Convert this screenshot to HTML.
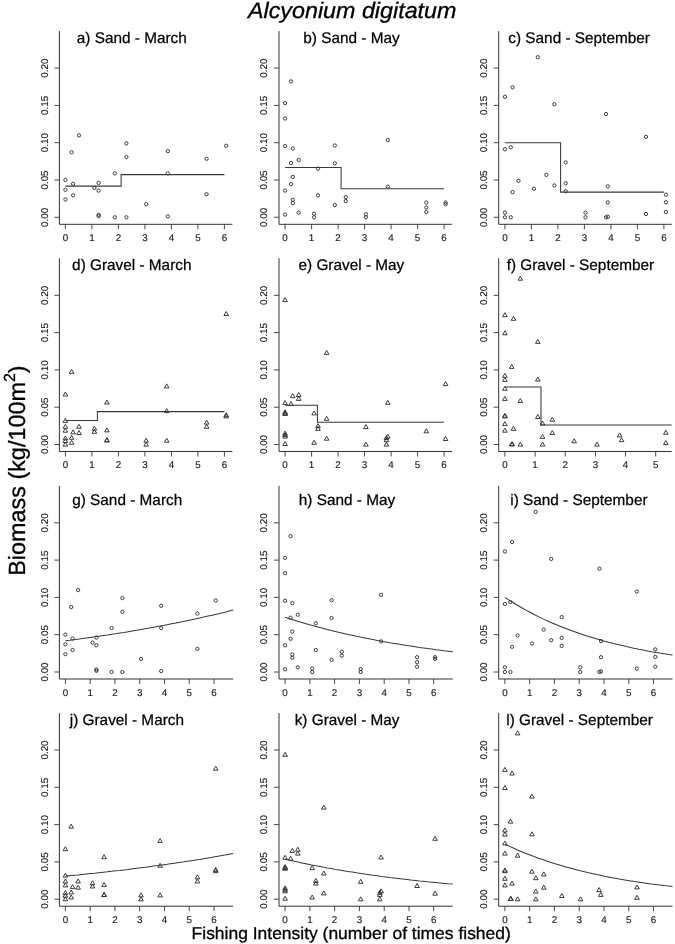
<!DOCTYPE html><html><head><meta charset="utf-8"><style>.ln{fill:none;stroke:#383838;stroke-width:1.05}g text{stroke-width:.25px}g text.tk{fill:#1a1a1a;stroke:#1a1a1a;stroke-width:.15px}html,body{margin:0;padding:0;background:#fff}svg{display:block}text{font-family:"Liberation Sans",sans-serif;fill:#000;stroke:#000;stroke-width:.3px;text-rendering:geometricPrecision}</style></head><body>
<svg width="675" height="944" viewBox="0 0 675 944" style="filter:grayscale(1) blur(0.3px)">
<rect width="675" height="944" fill="#fff"/>
<text transform="translate(352.2,18.3) scale(1.045,1)" font-size="22.3" font-style="italic" text-anchor="middle" fill="#000">Alcyonium digitatum</text>
<text transform="translate(25.2,575.8) rotate(-90)" font-size="23.4" fill="#000">Biomass (kg/100m<tspan font-size="16" dy="-10.5">2</tspan><tspan dy="10.5">)</tspan></text>
<text transform="translate(351.2,938.7) scale(1.025,1)" font-size="17.05" text-anchor="middle" fill="#000">Fishing Intensity (number of times fished)</text>
<g fill="none" stroke="#333" stroke-width="0.95"><path d="M59.4 31.1V224.3H232.4" fill="none" stroke="#333" stroke-width="1"/><path d="M54.4 217.3H59.4M54.4 180.0H59.4M54.4 142.7H59.4M54.4 105.4H59.4M54.4 68.1H59.4M65.4 224.3V229.3M91.9 224.3V229.3M118.4 224.3V229.3M144.9 224.3V229.3M171.4 224.3V229.3M197.9 224.3V229.3M224.4 224.3V229.3" fill="none" stroke="#333" stroke-width="0.9"/><text x="65.4" y="240.9" font-size="9.8" class="tk" text-anchor="middle">0</text><text x="91.9" y="240.9" font-size="9.8" class="tk" text-anchor="middle">1</text><text x="118.4" y="240.9" font-size="9.8" class="tk" text-anchor="middle">2</text><text x="144.9" y="240.9" font-size="9.8" class="tk" text-anchor="middle">3</text><text x="171.4" y="240.9" font-size="9.8" class="tk" text-anchor="middle">4</text><text x="197.9" y="240.9" font-size="9.8" class="tk" text-anchor="middle">5</text><text x="224.4" y="240.9" font-size="9.8" class="tk" text-anchor="middle">6</text><text transform="translate(47.7,217.3) rotate(-90)" font-size="9.9" class="tk" text-anchor="middle">0.00</text><text transform="translate(47.7,180.0) rotate(-90)" font-size="9.9" class="tk" text-anchor="middle">0.05</text><text transform="translate(47.7,142.7) rotate(-90)" font-size="9.9" class="tk" text-anchor="middle">0.10</text><text transform="translate(47.7,105.4) rotate(-90)" font-size="9.9" class="tk" text-anchor="middle">0.15</text><text transform="translate(47.7,68.1) rotate(-90)" font-size="9.9" class="tk" text-anchor="middle">0.20</text><text x="131.8" y="42.9" font-size="15.35" text-anchor="middle" fill="#000">a) Sand - March</text><circle cx="65.4" cy="179.9" r="1.65"/><circle cx="65.4" cy="189.7" r="1.65"/><circle cx="65.4" cy="199.5" r="1.65"/><circle cx="73.1" cy="183.8" r="1.65"/><circle cx="73.1" cy="195.3" r="1.65"/><circle cx="71.6" cy="152.3" r="1.65"/><circle cx="79.0" cy="135.4" r="1.65"/><circle cx="94.4" cy="187.9" r="1.65"/><circle cx="98.6" cy="182.9" r="1.65"/><circle cx="98.6" cy="190.6" r="1.65"/><circle cx="98.6" cy="214.8" r="1.65"/><circle cx="98.6" cy="216.1" r="1.65"/><circle cx="114.8" cy="173.4" r="1.65"/><circle cx="114.8" cy="217.3" r="1.65"/><circle cx="126.4" cy="143.4" r="1.65"/><circle cx="126.4" cy="157.1" r="1.65"/><circle cx="126.4" cy="217.3" r="1.65"/><circle cx="146.2" cy="204.2" r="1.65"/><circle cx="167.8" cy="151.1" r="1.65"/><circle cx="167.8" cy="173.4" r="1.65"/><circle cx="167.8" cy="216.4" r="1.65"/><circle cx="206.6" cy="158.8" r="1.65"/><circle cx="206.6" cy="194.2" r="1.65"/><circle cx="226.2" cy="145.8" r="1.65"/><path d="M65.4 186.1H121.1V174.6H224.4" class="ln"/></g>
<g fill="none" stroke="#333" stroke-width="0.95"><path d="M279.0 31.1V224.3H452.0" fill="none" stroke="#333" stroke-width="1"/><path d="M274.0 217.3H279.0M274.0 180.0H279.0M274.0 142.7H279.0M274.0 105.4H279.0M274.0 68.1H279.0M285.1 224.3V229.3M311.6 224.3V229.3M338.1 224.3V229.3M364.6 224.3V229.3M391.1 224.3V229.3M417.6 224.3V229.3M444.1 224.3V229.3" fill="none" stroke="#333" stroke-width="0.9"/><text x="285.1" y="240.9" font-size="9.8" class="tk" text-anchor="middle">0</text><text x="311.6" y="240.9" font-size="9.8" class="tk" text-anchor="middle">1</text><text x="338.1" y="240.9" font-size="9.8" class="tk" text-anchor="middle">2</text><text x="364.6" y="240.9" font-size="9.8" class="tk" text-anchor="middle">3</text><text x="391.1" y="240.9" font-size="9.8" class="tk" text-anchor="middle">4</text><text x="417.6" y="240.9" font-size="9.8" class="tk" text-anchor="middle">5</text><text x="444.1" y="240.9" font-size="9.8" class="tk" text-anchor="middle">6</text><text transform="translate(267.3,217.3) rotate(-90)" font-size="9.9" class="tk" text-anchor="middle">0.00</text><text transform="translate(267.3,180.0) rotate(-90)" font-size="9.9" class="tk" text-anchor="middle">0.05</text><text transform="translate(267.3,142.7) rotate(-90)" font-size="9.9" class="tk" text-anchor="middle">0.10</text><text transform="translate(267.3,105.4) rotate(-90)" font-size="9.9" class="tk" text-anchor="middle">0.15</text><text transform="translate(267.3,68.1) rotate(-90)" font-size="9.9" class="tk" text-anchor="middle">0.20</text><text x="351.5" y="42.9" font-size="15.35" text-anchor="middle" fill="#000">b) Sand - May</text><circle cx="285.1" cy="103.1" r="1.65"/><circle cx="285.1" cy="118.5" r="1.65"/><circle cx="285.1" cy="146.1" r="1.65"/><circle cx="285.1" cy="190.6" r="1.65"/><circle cx="285.1" cy="214.6" r="1.65"/><circle cx="291.0" cy="81.4" r="1.65"/><circle cx="291.0" cy="163.0" r="1.65"/><circle cx="291.0" cy="184.1" r="1.65"/><circle cx="292.8" cy="148.5" r="1.65"/><circle cx="292.8" cy="176.9" r="1.65"/><circle cx="292.8" cy="199.8" r="1.65"/><circle cx="292.8" cy="203.1" r="1.65"/><circle cx="298.7" cy="160.0" r="1.65"/><circle cx="298.7" cy="212.6" r="1.65"/><circle cx="314.1" cy="213.7" r="1.65"/><circle cx="314.1" cy="217.3" r="1.65"/><circle cx="318.0" cy="168.6" r="1.65"/><circle cx="318.0" cy="195.3" r="1.65"/><circle cx="334.8" cy="145.5" r="1.65"/><circle cx="334.8" cy="163.3" r="1.65"/><circle cx="334.8" cy="205.1" r="1.65"/><circle cx="345.8" cy="197.1" r="1.65"/><circle cx="345.8" cy="201.0" r="1.65"/><circle cx="365.9" cy="214.3" r="1.65"/><circle cx="365.9" cy="217.3" r="1.65"/><circle cx="387.8" cy="140.1" r="1.65"/><circle cx="387.8" cy="186.7" r="1.65"/><circle cx="426.3" cy="202.5" r="1.65"/><circle cx="426.3" cy="207.5" r="1.65"/><circle cx="426.3" cy="212.0" r="1.65"/><circle cx="445.6" cy="202.5" r="1.65"/><circle cx="445.6" cy="204.2" r="1.65"/><path d="M285.1 167.4H341.1V188.8H444.1" class="ln"/></g>
<g fill="none" stroke="#333" stroke-width="0.95"><path d="M498.7 31.1V224.3H671.7" fill="none" stroke="#333" stroke-width="1"/><path d="M493.7 217.3H498.7M493.7 180.0H498.7M493.7 142.7H498.7M493.7 105.4H498.7M493.7 68.1H498.7M504.9 224.3V229.3M531.4 224.3V229.3M557.9 224.3V229.3M584.4 224.3V229.3M610.9 224.3V229.3M637.4 224.3V229.3M663.9 224.3V229.3" fill="none" stroke="#333" stroke-width="0.9"/><text x="504.9" y="240.9" font-size="9.8" class="tk" text-anchor="middle">0</text><text x="531.4" y="240.9" font-size="9.8" class="tk" text-anchor="middle">1</text><text x="557.9" y="240.9" font-size="9.8" class="tk" text-anchor="middle">2</text><text x="584.4" y="240.9" font-size="9.8" class="tk" text-anchor="middle">3</text><text x="610.9" y="240.9" font-size="9.8" class="tk" text-anchor="middle">4</text><text x="637.4" y="240.9" font-size="9.8" class="tk" text-anchor="middle">5</text><text x="663.9" y="240.9" font-size="9.8" class="tk" text-anchor="middle">6</text><text transform="translate(487.0,217.3) rotate(-90)" font-size="9.9" class="tk" text-anchor="middle">0.00</text><text transform="translate(487.0,180.0) rotate(-90)" font-size="9.9" class="tk" text-anchor="middle">0.05</text><text transform="translate(487.0,142.7) rotate(-90)" font-size="9.9" class="tk" text-anchor="middle">0.10</text><text transform="translate(487.0,105.4) rotate(-90)" font-size="9.9" class="tk" text-anchor="middle">0.15</text><text transform="translate(487.0,68.1) rotate(-90)" font-size="9.9" class="tk" text-anchor="middle">0.20</text><text x="579.1" y="42.9" font-size="15.35" text-anchor="middle" fill="#000">c) Sand - September</text><circle cx="504.9" cy="96.8" r="1.65"/><circle cx="504.9" cy="149.3" r="1.65"/><circle cx="504.9" cy="212.6" r="1.65"/><circle cx="504.9" cy="217.3" r="1.65"/><circle cx="510.8" cy="147.3" r="1.65"/><circle cx="510.8" cy="217.3" r="1.65"/><circle cx="512.6" cy="87.3" r="1.65"/><circle cx="512.6" cy="192.1" r="1.65"/><circle cx="518.5" cy="180.8" r="1.65"/><circle cx="533.9" cy="188.8" r="1.65"/><circle cx="546.4" cy="174.9" r="1.65"/><circle cx="554.4" cy="104.2" r="1.65"/><circle cx="554.4" cy="185.5" r="1.65"/><circle cx="565.7" cy="162.4" r="1.65"/><circle cx="565.7" cy="183.2" r="1.65"/><circle cx="565.7" cy="191.2" r="1.65"/><circle cx="585.5" cy="212.6" r="1.65"/><circle cx="585.5" cy="217.3" r="1.65"/><circle cx="606.0" cy="114.0" r="1.65"/><circle cx="606.0" cy="217.3" r="1.65"/><circle cx="607.8" cy="186.4" r="1.65"/><circle cx="607.8" cy="202.5" r="1.65"/><circle cx="607.8" cy="216.7" r="1.65"/><circle cx="646.0" cy="136.9" r="1.65"/><circle cx="646.0" cy="214.0" r="1.65"/><circle cx="665.9" cy="194.7" r="1.65"/><circle cx="665.9" cy="202.2" r="1.65"/><circle cx="665.9" cy="212.0" r="1.65"/><circle cx="537.8" cy="57.2" r="1.65"/><path d="M504.9 142.8H560.6V192.1H663.9" class="ln"/></g>
<g fill="none" stroke="#333" stroke-width="0.95"><path d="M59.4 258.3V451.5H232.4" fill="none" stroke="#333" stroke-width="1"/><path d="M54.4 444.5H59.4M54.4 407.2H59.4M54.4 369.9H59.4M54.4 332.6H59.4M54.4 295.3H59.4M65.4 451.5V456.5M91.9 451.5V456.5M118.4 451.5V456.5M144.9 451.5V456.5M171.4 451.5V456.5M197.9 451.5V456.5M224.4 451.5V456.5" fill="none" stroke="#333" stroke-width="0.9"/><text x="65.4" y="468.1" font-size="9.8" class="tk" text-anchor="middle">0</text><text x="91.9" y="468.1" font-size="9.8" class="tk" text-anchor="middle">1</text><text x="118.4" y="468.1" font-size="9.8" class="tk" text-anchor="middle">2</text><text x="144.9" y="468.1" font-size="9.8" class="tk" text-anchor="middle">3</text><text x="171.4" y="468.1" font-size="9.8" class="tk" text-anchor="middle">4</text><text x="197.9" y="468.1" font-size="9.8" class="tk" text-anchor="middle">5</text><text x="224.4" y="468.1" font-size="9.8" class="tk" text-anchor="middle">6</text><text transform="translate(47.7,444.5) rotate(-90)" font-size="9.9" class="tk" text-anchor="middle">0.00</text><text transform="translate(47.7,407.2) rotate(-90)" font-size="9.9" class="tk" text-anchor="middle">0.05</text><text transform="translate(47.7,369.9) rotate(-90)" font-size="9.9" class="tk" text-anchor="middle">0.10</text><text transform="translate(47.7,332.6) rotate(-90)" font-size="9.9" class="tk" text-anchor="middle">0.15</text><text transform="translate(47.7,295.3) rotate(-90)" font-size="9.9" class="tk" text-anchor="middle">0.20</text><text x="131.8" y="270.1" font-size="15.35" text-anchor="middle" fill="#000">d) Gravel - March</text><path d="M65.4 392.0l2.3 4.0h-4.6zM65.4 418.4l2.3 4.0h-4.6zM65.4 424.3l2.3 4.0h-4.6zM65.4 428.2l2.3 4.0h-4.6zM65.4 435.9l2.3 4.0h-4.6zM65.4 438.5l2.3 4.0h-4.6zM65.4 442.1l2.3 4.0h-4.6zM71.6 369.4l2.3 4.0h-4.6zM71.6 435.3l2.3 4.0h-4.6zM71.6 440.3l2.3 4.0h-4.6zM73.1 429.9l2.3 4.0h-4.6zM79.0 424.3l2.3 4.0h-4.6zM79.0 430.5l2.3 4.0h-4.6zM94.4 426.1l2.3 4.0h-4.6zM94.4 429.3l2.3 4.0h-4.6zM106.9 400.0l2.3 4.0h-4.6zM106.9 427.9l2.3 4.0h-4.6zM106.9 437.7l2.3 4.0h-4.6zM106.9 437.9l2.3 4.0h-4.6zM146.2 438.2l2.3 4.0h-4.6zM146.2 442.1l2.3 4.0h-4.6zM166.7 383.9l2.3 4.0h-4.6zM166.7 408.6l2.3 4.0h-4.6zM166.7 438.2l2.3 4.0h-4.6zM206.6 420.1l2.3 4.0h-4.6zM206.6 424.3l2.3 4.0h-4.6zM226.2 311.5l2.3 4.0h-4.6zM226.2 412.7l2.3 4.0h-4.6zM226.2 413.9l2.3 4.0h-4.6z"/><path d="M65.4 420.5H97.4V411.6H224.4" class="ln"/></g>
<g fill="none" stroke="#333" stroke-width="0.95"><path d="M279.0 258.3V451.5H452.0" fill="none" stroke="#333" stroke-width="1"/><path d="M274.0 444.5H279.0M274.0 407.2H279.0M274.0 369.9H279.0M274.0 332.6H279.0M274.0 295.3H279.0M285.1 451.5V456.5M311.6 451.5V456.5M338.1 451.5V456.5M364.6 451.5V456.5M391.1 451.5V456.5M417.6 451.5V456.5M444.1 451.5V456.5" fill="none" stroke="#333" stroke-width="0.9"/><text x="285.1" y="468.1" font-size="9.8" class="tk" text-anchor="middle">0</text><text x="311.6" y="468.1" font-size="9.8" class="tk" text-anchor="middle">1</text><text x="338.1" y="468.1" font-size="9.8" class="tk" text-anchor="middle">2</text><text x="364.6" y="468.1" font-size="9.8" class="tk" text-anchor="middle">3</text><text x="391.1" y="468.1" font-size="9.8" class="tk" text-anchor="middle">4</text><text x="417.6" y="468.1" font-size="9.8" class="tk" text-anchor="middle">5</text><text x="444.1" y="468.1" font-size="9.8" class="tk" text-anchor="middle">6</text><text transform="translate(267.3,444.5) rotate(-90)" font-size="9.9" class="tk" text-anchor="middle">0.00</text><text transform="translate(267.3,407.2) rotate(-90)" font-size="9.9" class="tk" text-anchor="middle">0.05</text><text transform="translate(267.3,369.9) rotate(-90)" font-size="9.9" class="tk" text-anchor="middle">0.10</text><text transform="translate(267.3,332.6) rotate(-90)" font-size="9.9" class="tk" text-anchor="middle">0.15</text><text transform="translate(267.3,295.3) rotate(-90)" font-size="9.9" class="tk" text-anchor="middle">0.20</text><text x="351.4" y="270.1" font-size="15.35" text-anchor="middle" fill="#000">e) Gravel - May</text><path d="M285.1 297.6l2.3 4.0h-4.6zM285.1 400.6l2.3 4.0h-4.6zM285.1 409.8l2.3 4.0h-4.6zM285.1 410.9l2.3 4.0h-4.6zM285.1 411.5l2.3 4.0h-4.6zM285.1 431.1l2.3 4.0h-4.6zM285.1 432.6l2.3 4.0h-4.6zM285.1 434.1l2.3 4.0h-4.6zM285.1 441.5l2.3 4.0h-4.6zM291.0 401.5l2.3 4.0h-4.6zM292.8 393.7l2.3 4.0h-4.6zM298.7 392.5l2.3 4.0h-4.6zM298.7 396.4l2.3 4.0h-4.6zM314.1 410.9l2.3 4.0h-4.6zM314.1 440.3l2.3 4.0h-4.6zM318.0 423.7l2.3 4.0h-4.6zM318.0 426.4l2.3 4.0h-4.6zM326.6 350.4l2.3 4.0h-4.6zM326.6 416.3l2.3 4.0h-4.6zM326.6 436.2l2.3 4.0h-4.6zM365.9 424.6l2.3 4.0h-4.6zM365.9 442.1l2.3 4.0h-4.6zM386.4 435.6l2.3 4.0h-4.6zM386.4 437.7l2.3 4.0h-4.6zM386.4 442.1l2.3 4.0h-4.6zM387.8 400.3l2.3 4.0h-4.6zM387.8 434.1l2.3 4.0h-4.6zM426.3 428.8l2.3 4.0h-4.6zM445.6 381.6l2.3 4.0h-4.6zM445.6 436.5l2.3 4.0h-4.6z"/><path d="M285.1 405.3H317.4V422.2H444.1" class="ln"/></g>
<g fill="none" stroke="#333" stroke-width="0.95"><path d="M498.7 258.3V451.5H671.7" fill="none" stroke="#333" stroke-width="1"/><path d="M493.7 444.5H498.7M493.7 407.2H498.7M493.7 369.9H498.7M493.7 332.6H498.7M493.7 295.3H498.7M504.9 451.5V456.5M535.1 451.5V456.5M565.2 451.5V456.5M595.4 451.5V456.5M625.5 451.5V456.5M655.7 451.5V456.5" fill="none" stroke="#333" stroke-width="0.9"/><text x="504.9" y="468.1" font-size="9.8" class="tk" text-anchor="middle">0</text><text x="535.1" y="468.1" font-size="9.8" class="tk" text-anchor="middle">1</text><text x="565.2" y="468.1" font-size="9.8" class="tk" text-anchor="middle">2</text><text x="595.4" y="468.1" font-size="9.8" class="tk" text-anchor="middle">3</text><text x="625.5" y="468.1" font-size="9.8" class="tk" text-anchor="middle">4</text><text x="655.7" y="468.1" font-size="9.8" class="tk" text-anchor="middle">5</text><text transform="translate(487.0,444.5) rotate(-90)" font-size="9.9" class="tk" text-anchor="middle">0.00</text><text transform="translate(487.0,407.2) rotate(-90)" font-size="9.9" class="tk" text-anchor="middle">0.05</text><text transform="translate(487.0,369.9) rotate(-90)" font-size="9.9" class="tk" text-anchor="middle">0.10</text><text transform="translate(487.0,332.6) rotate(-90)" font-size="9.9" class="tk" text-anchor="middle">0.15</text><text transform="translate(487.0,295.3) rotate(-90)" font-size="9.9" class="tk" text-anchor="middle">0.20</text><text x="580.4" y="270.1" font-size="15.35" text-anchor="middle" fill="#000">f) Gravel - September</text><path d="M504.9 312.7l2.3 4.0h-4.6zM504.9 330.8l2.3 4.0h-4.6zM504.9 373.3l2.3 4.0h-4.6zM504.9 377.4l2.3 4.0h-4.6zM504.9 386.3l2.3 4.0h-4.6zM504.9 396.4l2.3 4.0h-4.6zM504.9 413.3l2.3 4.0h-4.6zM504.9 413.9l2.3 4.0h-4.6zM504.9 421.6l2.3 4.0h-4.6zM504.9 428.2l2.3 4.0h-4.6zM511.7 364.4l2.3 4.0h-4.6zM511.7 441.8l2.3 4.0h-4.6zM512.3 441.8l2.3 4.0h-4.6zM513.5 316.3l2.3 4.0h-4.6zM513.5 426.4l2.3 4.0h-4.6zM520.3 398.5l2.3 4.0h-4.6zM520.3 442.1l2.3 4.0h-4.6zM537.8 339.4l2.3 4.0h-4.6zM537.8 377.1l2.3 4.0h-4.6zM537.8 414.5l2.3 4.0h-4.6zM542.5 421.0l2.3 4.0h-4.6zM542.5 434.4l2.3 4.0h-4.6zM542.5 442.1l2.3 4.0h-4.6zM552.3 417.2l2.3 4.0h-4.6zM552.3 430.5l2.3 4.0h-4.6zM574.2 438.8l2.3 4.0h-4.6zM597.0 442.1l2.3 4.0h-4.6zM619.6 432.9l2.3 4.0h-4.6zM621.6 437.7l2.3 4.0h-4.6zM665.8 430.2l2.3 4.0h-4.6zM665.8 440.6l2.3 4.0h-4.6zM520.3 276.2l2.3 4.0h-4.6z"/><path d="M504.9 386.9H541.0V424.9H671.7" class="ln"/></g>
<g fill="none" stroke="#333" stroke-width="0.95"><path d="M59.4 485.8V679.0H233.2" fill="none" stroke="#333" stroke-width="1"/><path d="M54.4 672.0H59.4M54.4 634.7H59.4M54.4 597.4H59.4M54.4 560.1H59.4M54.4 522.8H59.4M65.4 679.0V684.0M90.2 679.0V684.0M114.9 679.0V684.0M139.7 679.0V684.0M164.5 679.0V684.0M189.2 679.0V684.0M214.0 679.0V684.0" fill="none" stroke="#333" stroke-width="0.9"/><text x="65.4" y="695.6" font-size="9.8" class="tk" text-anchor="middle">0</text><text x="90.2" y="695.6" font-size="9.8" class="tk" text-anchor="middle">1</text><text x="114.9" y="695.6" font-size="9.8" class="tk" text-anchor="middle">2</text><text x="139.7" y="695.6" font-size="9.8" class="tk" text-anchor="middle">3</text><text x="164.5" y="695.6" font-size="9.8" class="tk" text-anchor="middle">4</text><text x="189.2" y="695.6" font-size="9.8" class="tk" text-anchor="middle">5</text><text x="214.0" y="695.6" font-size="9.8" class="tk" text-anchor="middle">6</text><text transform="translate(47.7,672.0) rotate(-90)" font-size="9.9" class="tk" text-anchor="middle">0.00</text><text transform="translate(47.7,634.7) rotate(-90)" font-size="9.9" class="tk" text-anchor="middle">0.05</text><text transform="translate(47.7,597.4) rotate(-90)" font-size="9.9" class="tk" text-anchor="middle">0.10</text><text transform="translate(47.7,560.1) rotate(-90)" font-size="9.9" class="tk" text-anchor="middle">0.15</text><text transform="translate(47.7,522.8) rotate(-90)" font-size="9.9" class="tk" text-anchor="middle">0.20</text><text x="127.2" y="504.5" font-size="15.35" text-anchor="middle" fill="#000">g) Sand - March</text><circle cx="65.4" cy="634.6" r="1.65"/><circle cx="65.4" cy="644.4" r="1.65"/><circle cx="65.4" cy="654.2" r="1.65"/><circle cx="72.6" cy="638.5" r="1.65"/><circle cx="72.6" cy="650.0" r="1.65"/><circle cx="71.2" cy="607.0" r="1.65"/><circle cx="78.1" cy="590.1" r="1.65"/><circle cx="92.5" cy="642.6" r="1.65"/><circle cx="96.4" cy="637.6" r="1.65"/><circle cx="96.4" cy="645.3" r="1.65"/><circle cx="96.4" cy="669.5" r="1.65"/><circle cx="96.4" cy="670.8" r="1.65"/><circle cx="111.6" cy="628.1" r="1.65"/><circle cx="111.6" cy="672.0" r="1.65"/><circle cx="122.4" cy="598.1" r="1.65"/><circle cx="122.4" cy="611.8" r="1.65"/><circle cx="122.4" cy="672.0" r="1.65"/><circle cx="141.0" cy="658.9" r="1.65"/><circle cx="161.2" cy="605.8" r="1.65"/><circle cx="161.2" cy="628.1" r="1.65"/><circle cx="161.2" cy="671.1" r="1.65"/><circle cx="197.4" cy="613.5" r="1.65"/><circle cx="197.4" cy="648.9" r="1.65"/><circle cx="215.7" cy="600.5" r="1.65"/><path d="M65.4 640.8L69.6 640.3L73.8 639.7L78.0 639.2L82.2 638.6L86.4 638.0L90.6 637.4L94.8 636.8L99.0 636.2L103.2 635.6L107.4 635.0L111.5 634.3L115.7 633.7L119.9 633.0L124.1 632.4L128.3 631.7L132.5 631.0L136.7 630.3L140.9 629.5L145.1 628.8L149.3 628.1L153.5 627.3L157.7 626.5L161.9 625.7L166.1 624.9L170.3 624.1L174.5 623.3L178.7 622.4L182.9 621.6L187.1 620.7L191.2 619.8L195.4 618.9L199.6 618.0L203.8 617.1L208.0 616.1L212.2 615.2L216.4 614.2L220.6 613.2L224.8 612.2L229.0 611.1L233.2 610.1" class="ln"/></g>
<g fill="none" stroke="#333" stroke-width="0.95"><path d="M279.0 485.8V679.0H452.8" fill="none" stroke="#333" stroke-width="1"/><path d="M274.0 672.0H279.0M274.0 634.7H279.0M274.0 597.4H279.0M274.0 560.1H279.0M274.0 522.8H279.0M285.1 679.0V684.0M309.9 679.0V684.0M334.6 679.0V684.0M359.4 679.0V684.0M384.2 679.0V684.0M409.0 679.0V684.0M433.7 679.0V684.0" fill="none" stroke="#333" stroke-width="0.9"/><text x="285.1" y="695.6" font-size="9.8" class="tk" text-anchor="middle">0</text><text x="309.9" y="695.6" font-size="9.8" class="tk" text-anchor="middle">1</text><text x="334.6" y="695.6" font-size="9.8" class="tk" text-anchor="middle">2</text><text x="359.4" y="695.6" font-size="9.8" class="tk" text-anchor="middle">3</text><text x="384.2" y="695.6" font-size="9.8" class="tk" text-anchor="middle">4</text><text x="409.0" y="695.6" font-size="9.8" class="tk" text-anchor="middle">5</text><text x="433.7" y="695.6" font-size="9.8" class="tk" text-anchor="middle">6</text><text transform="translate(267.3,672.0) rotate(-90)" font-size="9.9" class="tk" text-anchor="middle">0.00</text><text transform="translate(267.3,634.7) rotate(-90)" font-size="9.9" class="tk" text-anchor="middle">0.05</text><text transform="translate(267.3,597.4) rotate(-90)" font-size="9.9" class="tk" text-anchor="middle">0.10</text><text transform="translate(267.3,560.1) rotate(-90)" font-size="9.9" class="tk" text-anchor="middle">0.15</text><text transform="translate(267.3,522.8) rotate(-90)" font-size="9.9" class="tk" text-anchor="middle">0.20</text><text x="347.0" y="504.5" font-size="15.35" text-anchor="middle" fill="#000">h) Sand - May</text><circle cx="285.1" cy="557.8" r="1.65"/><circle cx="285.1" cy="573.2" r="1.65"/><circle cx="285.1" cy="600.8" r="1.65"/><circle cx="285.1" cy="645.3" r="1.65"/><circle cx="285.1" cy="669.3" r="1.65"/><circle cx="290.6" cy="536.1" r="1.65"/><circle cx="290.6" cy="617.7" r="1.65"/><circle cx="290.6" cy="638.8" r="1.65"/><circle cx="292.3" cy="603.2" r="1.65"/><circle cx="292.3" cy="631.6" r="1.65"/><circle cx="292.3" cy="654.5" r="1.65"/><circle cx="292.3" cy="657.8" r="1.65"/><circle cx="297.8" cy="614.7" r="1.65"/><circle cx="297.8" cy="667.3" r="1.65"/><circle cx="312.2" cy="668.4" r="1.65"/><circle cx="312.2" cy="672.0" r="1.65"/><circle cx="315.8" cy="623.3" r="1.65"/><circle cx="315.8" cy="650.0" r="1.65"/><circle cx="331.6" cy="600.2" r="1.65"/><circle cx="331.6" cy="618.0" r="1.65"/><circle cx="331.6" cy="659.8" r="1.65"/><circle cx="341.8" cy="651.8" r="1.65"/><circle cx="341.8" cy="655.7" r="1.65"/><circle cx="360.7" cy="669.0" r="1.65"/><circle cx="360.7" cy="672.0" r="1.65"/><circle cx="381.1" cy="594.8" r="1.65"/><circle cx="381.1" cy="641.4" r="1.65"/><circle cx="417.1" cy="657.2" r="1.65"/><circle cx="417.1" cy="662.2" r="1.65"/><circle cx="417.1" cy="666.7" r="1.65"/><circle cx="435.1" cy="657.2" r="1.65"/><circle cx="435.1" cy="658.9" r="1.65"/><path d="M285.1 617.3L289.3 618.7L293.5 620.0L297.7 621.3L301.9 622.5L306.1 623.7L310.3 624.9L314.4 626.1L318.6 627.2L322.8 628.3L327.0 629.4L331.2 630.4L335.4 631.4L339.6 632.4L343.8 633.4L348.0 634.4L352.2 635.3L356.4 636.2L360.6 637.1L364.8 637.9L369.0 638.8L373.1 639.6L377.3 640.4L381.5 641.2L385.7 641.9L389.9 642.7L394.1 643.4L398.3 644.1L402.5 644.8L406.7 645.5L410.9 646.1L415.1 646.7L419.3 647.4L423.5 648.0L427.6 648.6L431.8 649.1L436.0 649.7L440.2 650.2L444.4 650.8L448.6 651.3L452.8 651.8" class="ln"/></g>
<g fill="none" stroke="#333" stroke-width="0.95"><path d="M498.7 485.8V679.0H672.5" fill="none" stroke="#333" stroke-width="1"/><path d="M493.7 672.0H498.7M493.7 634.7H498.7M493.7 597.4H498.7M493.7 560.1H498.7M493.7 522.8H498.7M504.9 679.0V684.0M529.7 679.0V684.0M554.4 679.0V684.0M579.2 679.0V684.0M604.0 679.0V684.0M628.8 679.0V684.0M653.5 679.0V684.0" fill="none" stroke="#333" stroke-width="0.9"/><text x="504.9" y="695.6" font-size="9.8" class="tk" text-anchor="middle">0</text><text x="529.7" y="695.6" font-size="9.8" class="tk" text-anchor="middle">1</text><text x="554.4" y="695.6" font-size="9.8" class="tk" text-anchor="middle">2</text><text x="579.2" y="695.6" font-size="9.8" class="tk" text-anchor="middle">3</text><text x="604.0" y="695.6" font-size="9.8" class="tk" text-anchor="middle">4</text><text x="628.8" y="695.6" font-size="9.8" class="tk" text-anchor="middle">5</text><text x="653.5" y="695.6" font-size="9.8" class="tk" text-anchor="middle">6</text><text transform="translate(487.0,672.0) rotate(-90)" font-size="9.9" class="tk" text-anchor="middle">0.00</text><text transform="translate(487.0,634.7) rotate(-90)" font-size="9.9" class="tk" text-anchor="middle">0.05</text><text transform="translate(487.0,597.4) rotate(-90)" font-size="9.9" class="tk" text-anchor="middle">0.10</text><text transform="translate(487.0,560.1) rotate(-90)" font-size="9.9" class="tk" text-anchor="middle">0.15</text><text transform="translate(487.0,522.8) rotate(-90)" font-size="9.9" class="tk" text-anchor="middle">0.20</text><text x="578.9" y="504.5" font-size="15.35" text-anchor="middle" fill="#000">i) Sand - September</text><circle cx="504.9" cy="551.5" r="1.65"/><circle cx="504.9" cy="604.0" r="1.65"/><circle cx="504.9" cy="667.3" r="1.65"/><circle cx="504.9" cy="672.0" r="1.65"/><circle cx="510.4" cy="602.0" r="1.65"/><circle cx="510.4" cy="672.0" r="1.65"/><circle cx="512.1" cy="542.0" r="1.65"/><circle cx="512.1" cy="646.8" r="1.65"/><circle cx="517.6" cy="635.5" r="1.65"/><circle cx="532.1" cy="643.5" r="1.65"/><circle cx="543.7" cy="629.6" r="1.65"/><circle cx="551.2" cy="558.9" r="1.65"/><circle cx="551.2" cy="640.2" r="1.65"/><circle cx="561.7" cy="617.1" r="1.65"/><circle cx="561.7" cy="637.9" r="1.65"/><circle cx="561.7" cy="645.9" r="1.65"/><circle cx="580.3" cy="667.3" r="1.65"/><circle cx="580.3" cy="672.0" r="1.65"/><circle cx="599.4" cy="568.7" r="1.65"/><circle cx="599.4" cy="672.0" r="1.65"/><circle cx="601.0" cy="641.1" r="1.65"/><circle cx="601.0" cy="657.2" r="1.65"/><circle cx="601.0" cy="671.4" r="1.65"/><circle cx="636.8" cy="591.6" r="1.65"/><circle cx="636.8" cy="668.7" r="1.65"/><circle cx="655.3" cy="649.4" r="1.65"/><circle cx="655.3" cy="656.9" r="1.65"/><circle cx="655.3" cy="666.7" r="1.65"/><circle cx="535.7" cy="511.9" r="1.65"/><path d="M504.9 597.4L509.1 600.1L513.3 602.7L517.5 605.3L521.7 607.7L525.9 610.1L530.0 612.3L534.2 614.5L538.4 616.6L542.6 618.6L546.8 620.6L551.0 622.4L555.2 624.2L559.4 626.0L563.6 627.7L567.8 629.3L571.9 630.8L576.1 632.3L580.3 633.8L584.5 635.2L588.7 636.5L592.9 637.8L597.1 639.1L601.3 640.3L605.5 641.4L609.6 642.5L613.8 643.6L618.0 644.6L622.2 645.6L626.4 646.6L630.6 647.5L634.8 648.4L639.0 649.3L643.2 650.1L647.4 650.9L651.5 651.7L655.7 652.4L659.9 653.1L664.1 653.8L668.3 654.5L672.5 655.1" class="ln"/></g>
<g fill="none" stroke="#333" stroke-width="0.95"><path d="M59.4 713.0V906.2H233.2" fill="none" stroke="#333" stroke-width="1"/><path d="M54.4 899.2H59.4M54.4 861.9H59.4M54.4 824.6H59.4M54.4 787.3H59.4M54.4 750.0H59.4M65.4 906.2V911.2M90.2 906.2V911.2M114.9 906.2V911.2M139.7 906.2V911.2M164.5 906.2V911.2M189.2 906.2V911.2M214.0 906.2V911.2" fill="none" stroke="#333" stroke-width="0.9"/><text x="65.4" y="922.8" font-size="9.8" class="tk" text-anchor="middle">0</text><text x="90.2" y="922.8" font-size="9.8" class="tk" text-anchor="middle">1</text><text x="114.9" y="922.8" font-size="9.8" class="tk" text-anchor="middle">2</text><text x="139.7" y="922.8" font-size="9.8" class="tk" text-anchor="middle">3</text><text x="164.5" y="922.8" font-size="9.8" class="tk" text-anchor="middle">4</text><text x="189.2" y="922.8" font-size="9.8" class="tk" text-anchor="middle">5</text><text x="214.0" y="922.8" font-size="9.8" class="tk" text-anchor="middle">6</text><text transform="translate(47.7,899.2) rotate(-90)" font-size="9.9" class="tk" text-anchor="middle">0.00</text><text transform="translate(47.7,861.9) rotate(-90)" font-size="9.9" class="tk" text-anchor="middle">0.05</text><text transform="translate(47.7,824.6) rotate(-90)" font-size="9.9" class="tk" text-anchor="middle">0.10</text><text transform="translate(47.7,787.3) rotate(-90)" font-size="9.9" class="tk" text-anchor="middle">0.15</text><text transform="translate(47.7,750.0) rotate(-90)" font-size="9.9" class="tk" text-anchor="middle">0.20</text><text x="126.9" y="724.7" font-size="15.35" text-anchor="middle" fill="#000">j) Gravel - March</text><path d="M65.4 846.7l2.3 4.0h-4.6zM65.4 873.1l2.3 4.0h-4.6zM65.4 879.0l2.3 4.0h-4.6zM65.4 882.9l2.3 4.0h-4.6zM65.4 890.6l2.3 4.0h-4.6zM65.4 893.2l2.3 4.0h-4.6zM65.4 896.8l2.3 4.0h-4.6zM71.2 824.1l2.3 4.0h-4.6zM71.2 890.0l2.3 4.0h-4.6zM71.2 895.0l2.3 4.0h-4.6zM72.6 884.6l2.3 4.0h-4.6zM78.1 879.0l2.3 4.0h-4.6zM78.1 885.2l2.3 4.0h-4.6zM92.5 880.8l2.3 4.0h-4.6zM92.5 884.0l2.3 4.0h-4.6zM104.1 854.7l2.3 4.0h-4.6zM104.1 882.6l2.3 4.0h-4.6zM104.1 892.4l2.3 4.0h-4.6zM104.1 892.6l2.3 4.0h-4.6zM141.0 892.9l2.3 4.0h-4.6zM141.0 896.8l2.3 4.0h-4.6zM160.1 838.6l2.3 4.0h-4.6zM160.1 863.3l2.3 4.0h-4.6zM160.1 892.9l2.3 4.0h-4.6zM197.4 874.8l2.3 4.0h-4.6zM197.4 879.0l2.3 4.0h-4.6zM215.7 766.2l2.3 4.0h-4.6zM215.7 867.4l2.3 4.0h-4.6zM215.7 868.6l2.3 4.0h-4.6z"/><path d="M65.4 876.1L69.6 875.7L73.8 875.3L78.0 874.9L82.2 874.4L86.4 874.0L90.6 873.6L94.8 873.2L99.0 872.7L103.2 872.2L107.4 871.8L111.5 871.3L115.7 870.8L119.9 870.4L124.1 869.9L128.3 869.4L132.5 868.8L136.7 868.3L140.9 867.8L145.1 867.3L149.3 866.7L153.5 866.1L157.7 865.6L161.9 865.0L166.1 864.4L170.3 863.8L174.5 863.2L178.7 862.6L182.9 862.0L187.1 861.3L191.2 860.7L195.4 860.0L199.6 859.4L203.8 858.7L208.0 858.0L212.2 857.3L216.4 856.5L220.6 855.8L224.8 855.1L229.0 854.3L233.2 853.5" class="ln"/></g>
<g fill="none" stroke="#333" stroke-width="0.95"><path d="M279.0 713.0V906.2H452.8" fill="none" stroke="#333" stroke-width="1"/><path d="M274.0 899.2H279.0M274.0 861.9H279.0M274.0 824.6H279.0M274.0 787.3H279.0M274.0 750.0H279.0M285.1 906.2V911.2M309.9 906.2V911.2M334.6 906.2V911.2M359.4 906.2V911.2M384.2 906.2V911.2M409.0 906.2V911.2M433.7 906.2V911.2" fill="none" stroke="#333" stroke-width="0.9"/><text x="285.1" y="922.8" font-size="9.8" class="tk" text-anchor="middle">0</text><text x="309.9" y="922.8" font-size="9.8" class="tk" text-anchor="middle">1</text><text x="334.6" y="922.8" font-size="9.8" class="tk" text-anchor="middle">2</text><text x="359.4" y="922.8" font-size="9.8" class="tk" text-anchor="middle">3</text><text x="384.2" y="922.8" font-size="9.8" class="tk" text-anchor="middle">4</text><text x="409.0" y="922.8" font-size="9.8" class="tk" text-anchor="middle">5</text><text x="433.7" y="922.8" font-size="9.8" class="tk" text-anchor="middle">6</text><text transform="translate(267.3,899.2) rotate(-90)" font-size="9.9" class="tk" text-anchor="middle">0.00</text><text transform="translate(267.3,861.9) rotate(-90)" font-size="9.9" class="tk" text-anchor="middle">0.05</text><text transform="translate(267.3,824.6) rotate(-90)" font-size="9.9" class="tk" text-anchor="middle">0.10</text><text transform="translate(267.3,787.3) rotate(-90)" font-size="9.9" class="tk" text-anchor="middle">0.15</text><text transform="translate(267.3,750.0) rotate(-90)" font-size="9.9" class="tk" text-anchor="middle">0.20</text><text x="347.1" y="724.7" font-size="15.35" text-anchor="middle" fill="#000">k) Gravel - May</text><path d="M285.1 752.3l2.3 4.0h-4.6zM285.1 855.3l2.3 4.0h-4.6zM285.1 864.5l2.3 4.0h-4.6zM285.1 865.6l2.3 4.0h-4.6zM285.1 866.2l2.3 4.0h-4.6zM285.1 885.8l2.3 4.0h-4.6zM285.1 887.3l2.3 4.0h-4.6zM285.1 888.8l2.3 4.0h-4.6zM285.1 896.2l2.3 4.0h-4.6zM290.6 856.2l2.3 4.0h-4.6zM292.3 848.4l2.3 4.0h-4.6zM297.8 847.2l2.3 4.0h-4.6zM297.8 851.1l2.3 4.0h-4.6zM312.2 865.6l2.3 4.0h-4.6zM312.2 895.0l2.3 4.0h-4.6zM315.8 878.4l2.3 4.0h-4.6zM315.8 881.1l2.3 4.0h-4.6zM323.8 805.1l2.3 4.0h-4.6zM323.8 871.0l2.3 4.0h-4.6zM323.8 890.9l2.3 4.0h-4.6zM360.7 879.3l2.3 4.0h-4.6zM360.7 896.8l2.3 4.0h-4.6zM379.8 890.3l2.3 4.0h-4.6zM379.8 892.4l2.3 4.0h-4.6zM379.8 896.8l2.3 4.0h-4.6zM381.1 855.0l2.3 4.0h-4.6zM381.1 888.8l2.3 4.0h-4.6zM417.1 883.5l2.3 4.0h-4.6zM435.1 836.3l2.3 4.0h-4.6zM435.1 891.2l2.3 4.0h-4.6z"/><path d="M285.1 859.2L289.3 860.2L293.5 861.1L297.7 862.0L301.9 862.9L306.1 863.8L310.3 864.7L314.4 865.5L318.6 866.3L322.8 867.1L327.0 867.9L331.2 868.6L335.4 869.4L339.6 870.1L343.8 870.8L348.0 871.5L352.2 872.1L356.4 872.8L360.6 873.4L364.8 874.1L369.0 874.7L373.1 875.3L377.3 875.8L381.5 876.4L385.7 876.9L389.9 877.5L394.1 878.0L398.3 878.5L402.5 879.0L406.7 879.5L410.9 880.0L415.1 880.4L419.3 880.9L423.5 881.3L427.6 881.8L431.8 882.2L436.0 882.6L440.2 883.0L444.4 883.4L448.6 883.8L452.8 884.1" class="ln"/></g>
<g fill="none" stroke="#333" stroke-width="0.95"><path d="M498.7 713.0V906.2H672.5" fill="none" stroke="#333" stroke-width="1"/><path d="M493.7 899.2H498.7M493.7 861.9H498.7M493.7 824.6H498.7M493.7 787.3H498.7M493.7 750.0H498.7M504.9 906.2V911.2M529.7 906.2V911.2M554.4 906.2V911.2M579.2 906.2V911.2M604.0 906.2V911.2M628.8 906.2V911.2M653.5 906.2V911.2" fill="none" stroke="#333" stroke-width="0.9"/><text x="504.9" y="922.8" font-size="9.8" class="tk" text-anchor="middle">0</text><text x="529.7" y="922.8" font-size="9.8" class="tk" text-anchor="middle">1</text><text x="554.4" y="922.8" font-size="9.8" class="tk" text-anchor="middle">2</text><text x="579.2" y="922.8" font-size="9.8" class="tk" text-anchor="middle">3</text><text x="604.0" y="922.8" font-size="9.8" class="tk" text-anchor="middle">4</text><text x="628.8" y="922.8" font-size="9.8" class="tk" text-anchor="middle">5</text><text x="653.5" y="922.8" font-size="9.8" class="tk" text-anchor="middle">6</text><text transform="translate(487.0,899.2) rotate(-90)" font-size="9.9" class="tk" text-anchor="middle">0.00</text><text transform="translate(487.0,861.9) rotate(-90)" font-size="9.9" class="tk" text-anchor="middle">0.05</text><text transform="translate(487.0,824.6) rotate(-90)" font-size="9.9" class="tk" text-anchor="middle">0.10</text><text transform="translate(487.0,787.3) rotate(-90)" font-size="9.9" class="tk" text-anchor="middle">0.15</text><text transform="translate(487.0,750.0) rotate(-90)" font-size="9.9" class="tk" text-anchor="middle">0.20</text><text x="579.6" y="724.7" font-size="15.35" text-anchor="middle" fill="#000">l) Gravel - September</text><path d="M504.9 767.4l2.3 4.0h-4.6zM504.9 785.5l2.3 4.0h-4.6zM504.9 828.0l2.3 4.0h-4.6zM504.9 832.1l2.3 4.0h-4.6zM504.9 841.0l2.3 4.0h-4.6zM504.9 851.1l2.3 4.0h-4.6zM504.9 868.0l2.3 4.0h-4.6zM504.9 868.6l2.3 4.0h-4.6zM504.9 876.3l2.3 4.0h-4.6zM504.9 882.9l2.3 4.0h-4.6zM510.5 819.1l2.3 4.0h-4.6zM510.5 896.5l2.3 4.0h-4.6zM511.0 896.5l2.3 4.0h-4.6zM512.0 771.0l2.3 4.0h-4.6zM512.0 881.1l2.3 4.0h-4.6zM517.6 853.2l2.3 4.0h-4.6zM517.6 896.8l2.3 4.0h-4.6zM531.9 794.1l2.3 4.0h-4.6zM531.9 831.8l2.3 4.0h-4.6zM531.9 869.2l2.3 4.0h-4.6zM535.8 875.7l2.3 4.0h-4.6zM535.8 889.1l2.3 4.0h-4.6zM535.8 896.8l2.3 4.0h-4.6zM543.8 871.9l2.3 4.0h-4.6zM543.8 885.2l2.3 4.0h-4.6zM561.8 893.5l2.3 4.0h-4.6zM580.6 896.8l2.3 4.0h-4.6zM599.1 887.6l2.3 4.0h-4.6zM600.8 892.4l2.3 4.0h-4.6zM637.0 884.9l2.3 4.0h-4.6zM637.0 895.3l2.3 4.0h-4.6zM517.6 730.9l2.3 4.0h-4.6z"/><path d="M504.9 844.1L509.1 846.1L513.3 848.0L517.5 849.9L521.7 851.7L525.9 853.4L530.0 855.0L534.2 856.6L538.4 858.2L542.6 859.6L546.8 861.1L551.0 862.4L555.2 863.8L559.4 865.0L563.6 866.3L567.8 867.5L571.9 868.6L576.1 869.7L580.3 870.8L584.5 871.8L588.7 872.8L592.9 873.7L597.1 874.6L601.3 875.5L605.5 876.4L609.6 877.2L613.8 878.0L618.0 878.8L622.2 879.5L626.4 880.2L630.6 880.9L634.8 881.6L639.0 882.2L643.2 882.8L647.4 883.4L651.5 884.0L655.7 884.5L659.9 885.0L664.1 885.6L668.3 886.0L672.5 886.5" class="ln"/></g>
</svg></body></html>
